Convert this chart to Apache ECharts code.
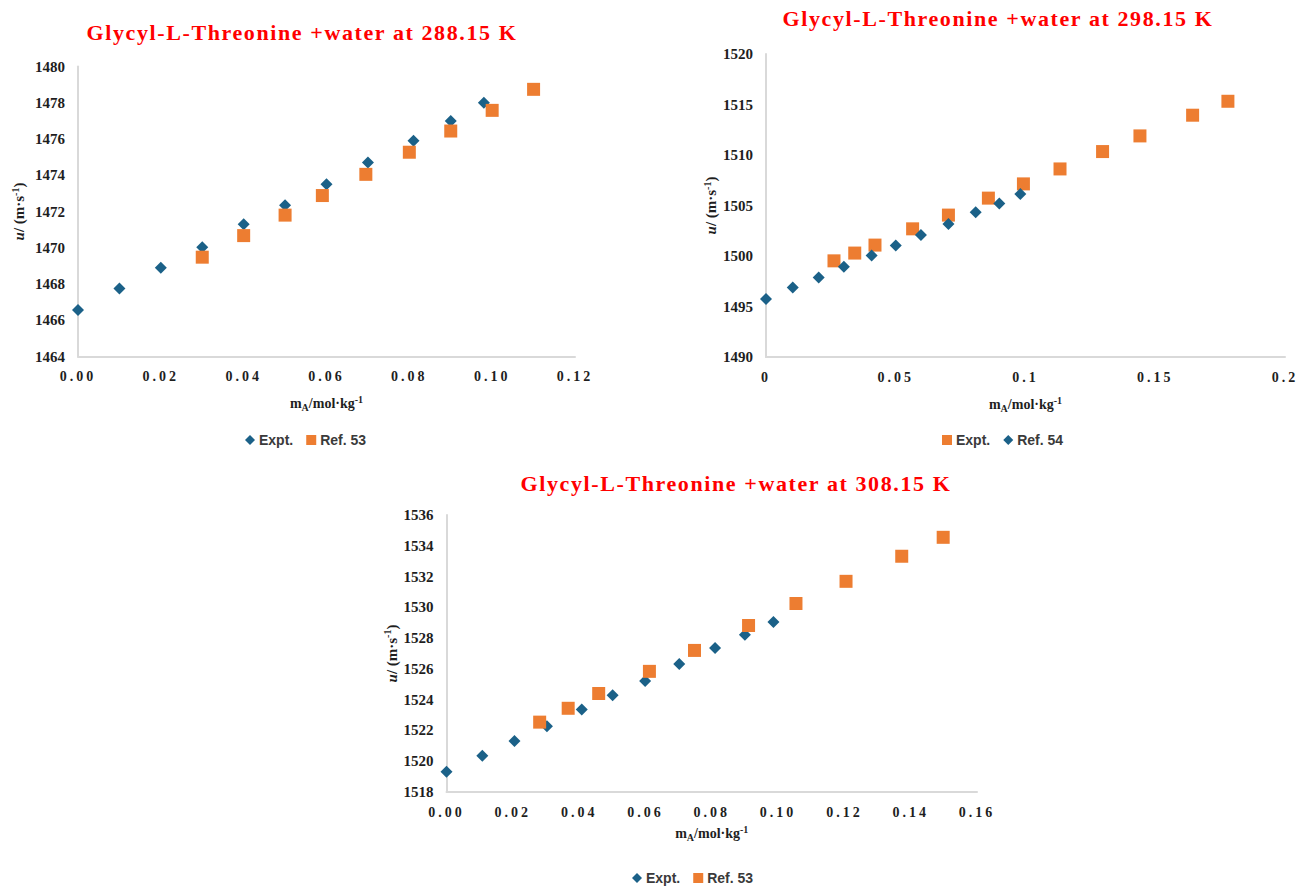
<!DOCTYPE html>
<html>
<head>
<meta charset="utf-8">
<script src="https://cdn.jsdelivr.net/npm/echarts@6/dist/echarts.min.js"></script>
<style>
  html, body { margin: 0; padding: 0; background: #ffffff; }
  #page { position: relative; width: 1297px; height: 886px; }
  .panel { position: absolute; left: 0; top: 0; width: 1297px; height: 886px; }
  /* spaced lettering for panel titles and x tick labels */
  .panel svg text[style*="Times"] { letter-spacing: 1.6px; }
  .panel svg text[style*="Georgia"] { letter-spacing: 3px; }
</style>
</head>
<body>
<div id="page">
  <div class="panel" id="p288"></div>
  <div class="panel" id="p298"></div>
  <div class="panel" id="p308"></div>
</div>
<script>
// Speed of sound u / (m·s-1) versus molality mA / (mol·kg-1)

// 288.15 K
const x288Expt = [0.000, 0.010, 0.020, 0.030, 0.040, 0.050, 0.060, 0.070, 0.081, 0.090, 0.098];
const u288Expt = [1466.56, 1467.75, 1468.90, 1470.03, 1471.29, 1472.35, 1473.50, 1474.70, 1475.91, 1476.99, 1478.00];
const x288Ref = [0.030, 0.040, 0.050, 0.059, 0.0695, 0.080, 0.090, 0.100, 0.110];
const u288Ref = [1469.48, 1470.67, 1471.80, 1472.88, 1474.05, 1475.27, 1476.44, 1477.58, 1478.74];

// 298.15 K
const x298Expt = [0.0262, 0.0342, 0.042, 0.0565, 0.0703, 0.0857, 0.0992, 0.1133, 0.1297, 0.1441, 0.1644, 0.178];
const u298Expt = [1499.52, 1500.29, 1501.08, 1502.69, 1504.05, 1505.73, 1507.14, 1508.62, 1510.34, 1511.89, 1513.94, 1515.32];
const x298Ref = [0.000, 0.0103, 0.0203, 0.030, 0.0407, 0.050, 0.0597, 0.0703, 0.0808, 0.0899, 0.098];
const u298Ref = [1495.74, 1496.88, 1497.87, 1498.93, 1500.05, 1501.04, 1502.07, 1503.18, 1504.34, 1505.19, 1506.13];

// 308.15 K
const x308Expt = [0.000, 0.0108, 0.0205, 0.0303, 0.0408, 0.0501, 0.0599, 0.0702, 0.081, 0.090, 0.0986];
const u308Expt = [1519.32, 1520.35, 1521.32, 1522.28, 1523.36, 1524.29, 1525.21, 1526.31, 1527.35, 1528.22, 1529.04];
const x308Ref = [0.0281, 0.0367, 0.0459, 0.0612, 0.0748, 0.0911, 0.1054, 0.1205, 0.1373, 0.1498];
const u308Ref = [1522.54, 1523.44, 1524.40, 1525.84, 1527.20, 1528.82, 1530.25, 1531.69, 1533.32, 1534.55];

// axis ranges [min, max, step]
const xRange288 = [0, 0.12, 0.02];
const yRange288 = [1464, 1480, 2];
const xRange298 = [0, 0.2, 0.05];
const yRange298 = [1490, 1520, 5];
const xRange308 = [0, 0.16, 0.02];
const yRange308 = [1518, 1536, 2];

const titles = [
  'Glycyl-L-Threonine +water at 288.15 K',
  'Glycyl-L-Threonine +water at 298.15 K',
  'Glycyl-L-Threonine +water at 308.15 K'
];

const BLUE = '#1b6188';
const ORANGE = '#ED7D31';
const AXIS_GRAY = '#d9d9d9';
const INK = '#1e1e1e';
const SERIF = "'Liberation Serif'";

function zip(xs, ys) { return xs.map((x, i) => [x, ys[i]]); }

function diamondSeries(name, xs, ys) {
  return { name, type: 'scatter', symbol: 'diamond', symbolSize: 12,
           itemStyle: { color: BLUE, opacity: 1 }, data: zip(xs, ys) };
}
function squareSeries(name, xs, ys) {
  return { name, type: 'scatter', symbol: 'rect', symbolSize: 13,
           itemStyle: { color: ORANGE, opacity: 1 }, data: zip(xs, ys) };
}

function buildOption(cfg) {
  return {
    animation: false,
    backgroundColor: 'transparent',
    title: {
      text: cfg.title,
      left: cfg.titleX, top: cfg.titleY,
      textAlign: 'center',
      textStyle: { color: '#ff0000', fontFamily: SERIF + ', Times', fontWeight: 'bold', fontSize: 22 }
    },
    legend: {
      left: cfg.legendX, top: cfg.legendY,
      itemWidth: 10, itemHeight: 10, itemGap: 13,
      textStyle: { fontFamily: "'Liberation Sans'", fontWeight: 'bold', fontSize: 14, color: '#3a3a3a', padding: [0, 0, 0, -1] },
      data: cfg.legend
    },
    grid: { left: cfg.grid[0], top: cfg.grid[1], width: cfg.grid[2], height: cfg.grid[3],
            containLabel: false, outerBoundsMode: 'none' },
    xAxis: {
      type: 'value', min: cfg.xr[0], max: cfg.xr[1], interval: cfg.xr[2],
      axisLine: { show: true, onZero: false, lineStyle: { color: AXIS_GRAY, width: 2 } },
      axisTick: { show: false }, splitLine: { show: false },
      axisLabel: { margin: 13, color: INK, fontFamily: SERIF + ', Georgia', fontWeight: 'bold', fontSize: 14,
                   formatter: cfg.xfmt },
      name: '{n|m}{sub|A}{n|/mol·kg}{sup|-1}',
      nameLocation: 'middle', nameGap: cfg.xNameGap,
      nameTextStyle: {
        rich: {
          n: { fontFamily: SERIF, fontWeight: 'bold', fontSize: 14, color: INK, lineHeight: 18 },
          sub: { fontFamily: SERIF, fontWeight: 'bold', fontSize: 10, color: INK, lineHeight: 10, verticalAlign: 'bottom' },
          sup: { fontFamily: SERIF, fontWeight: 'bold', fontSize: 10, color: INK, lineHeight: 10, verticalAlign: 'top' }
        }
      }
    },
    yAxis: {
      type: 'value', min: cfg.yr[0], max: cfg.yr[1], interval: cfg.yr[2],
      axisLine: { show: true, onZero: false, lineStyle: { color: AXIS_GRAY, width: 2 } },
      axisTick: { show: false }, splitLine: { show: false },
      axisLabel: { margin: 13, color: INK, fontFamily: SERIF, fontWeight: 'bold', fontSize: 15,
                   formatter: v => String(v) },
      name: '{i|u}{n|/ (m·s}{sup|-1}{n|)}',
      nameLocation: 'middle', nameGap: cfg.yNameGap,
      nameTextStyle: {
        rich: {
          i: { fontFamily: SERIF, fontStyle: 'italic', fontWeight: 'bold', fontSize: 15, color: INK, lineHeight: 18 },
          n: { fontFamily: SERIF, fontWeight: 'bold', fontSize: 15, color: INK, lineHeight: 18 },
          sup: { fontFamily: SERIF, fontWeight: 'bold', fontSize: 10, color: INK, lineHeight: 10, verticalAlign: 'top' }
        }
      }
    },
    series: cfg.series
  };
}

const fmt2 = v => v.toFixed(2);
const fmtPlain = v => String(parseFloat(v.toFixed(2)));

const legendDiamond = name => ({ name, icon: 'diamond', itemStyle: { color: BLUE, opacity: 1 } });
const legendSquare = name => ({ name, icon: 'rect', itemStyle: { color: ORANGE, opacity: 1 } });

const panels = [
  {
    el: 'p288', title: titles[0], titleX: 297, titleY: 16,
    legendX: 240, legendY: 428,
    grid: [78, 66.5, 497, 290], xr: xRange288, yr: yRange288, xfmt: fmt2,
    xNameGap: 38, yNameGap: 50,
    legend: [legendDiamond('Expt.'), legendSquare('Ref. 53')],
    series: [diamondSeries('Expt.', x288Expt, u288Expt), squareSeries('Ref. 53', x288Ref, u288Ref)]
  },
  {
    el: 'p298', title: titles[1], titleX: 993, titleY: 2,
    legendX: 937, legendY: 428,
    grid: [766, 54, 519, 303], xr: xRange298, yr: yRange298, xfmt: fmtPlain,
    xNameGap: 38, yNameGap: 46,
    legend: [legendSquare('Expt.'), legendDiamond('Ref. 54')],
    series: [squareSeries('Expt.', x298Expt, u298Expt), diamondSeries('Ref. 54', x298Ref, u298Ref)]
  },
  {
    el: 'p308', title: titles[2], titleX: 731, titleY: 467,
    legendX: 627, legendY: 866,
    grid: [446.5, 515, 530.5, 277], xr: xRange308, yr: yRange308, xfmt: fmt2,
    xNameGap: 32, yNameGap: 46,
    legend: [legendDiamond('Expt.'), legendSquare('Ref. 53')],
    series: [diamondSeries('Expt.', x308Expt, u308Expt), squareSeries('Ref. 53', x308Ref, u308Ref)]
  }
];

panels.forEach(p => {
  const chart = echarts.init(document.getElementById(p.el), null, { renderer: 'svg', width: 1297, height: 886 });
  chart.setOption(buildOption(p));
});
</script>
</body>
</html>
